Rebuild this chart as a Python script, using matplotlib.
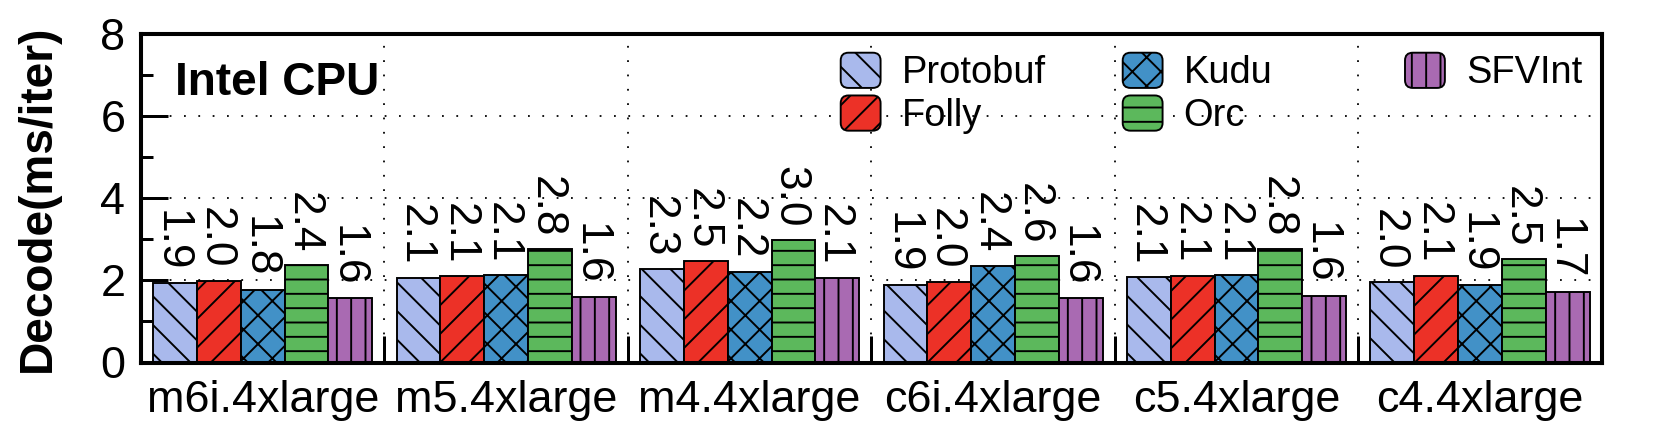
import matplotlib
matplotlib.use("Agg")
import matplotlib.pyplot as plt
from matplotlib.patches import FancyBboxPatch
from matplotlib.legend_handler import HandlerPatch
import numpy as np

instances = ["m6i.4xlarge", "m5.4xlarge", "m4.4xlarge", "c6i.4xlarge", "c5.4xlarge", "c4.4xlarge"]
protobuf = [1.93, 2.07, 2.27, 1.88, 2.08, 1.96]
folly = [1.99, 2.10, 2.46, 1.97, 2.11, 2.11]
kudu = [1.77, 2.12, 2.21, 2.36, 2.13, 1.88]
orc = [2.37, 2.76, 2.99, 2.59, 2.76, 2.52]
sfvint = [1.56, 1.60, 2.06, 1.56, 1.62, 1.72]

names = ["Protobuf", "Folly", "Kudu", "Orc", "SFVInt"]
colors = ["#a9b9ec", "#ec3127", "#4291c7", "#5cb85c", "#a96ab2"]
hatches = ["\\", "/", "x", "-", "|"]

DPI = 86
plt.rcParams["font.family"] = ["Liberation Sans", "DejaVu Sans"]
plt.rcParams["hatch.linewidth"] = 1.6
plt.rcParams["hatch.color"] = "black"


class RoundBox(HandlerPatch):
    def create_artists(self, legend, orig_handle, xdescent, ydescent,
                       width, height, fontsize, trans):
        p = FancyBboxPatch((-xdescent, -ydescent), width, height,
                           boxstyle="round,pad=0,rounding_size=%f" % (0.22 * height))
        self.update_prop(p, orig_handle, legend)
        p.set_transform(trans)
        return [p]


fig = plt.figure(figsize=(1661 / DPI, 434 / DPI), dpi=DPI)
ax = fig.add_axes([141 / 1661, 1 - 362.5 / 434, (1601.7 - 141) / 1661, (362.5 - 34) / 434])

series = [protobuf, folly, kudu, orc, sfvint]
x = np.arange(len(instances))
w = 0.18
handles = []
for j, vals in enumerate(series):
    pos = x + (j - 2) * w
    b = ax.bar(pos, vals, w, color=colors[j], edgecolor="black", linewidth=1.6,
               hatch=hatches[j], label=names[j], zorder=2)
    handles.append(b.patches[0])
    for xi, v in zip(pos, vals):
        ax.annotate("%.1f" % v, (xi, v), xytext=(-3, 10), textcoords="offset points",
                    rotation=270, ha="center", va="bottom", fontsize=37, zorder=3)

ax.set_xlim(-0.5, len(instances) - 0.5)
ax.set_ylim(0, 8)
ax.set_xticks(x)
ax.set_xticklabels(instances, fontsize=37.7)
ax.set_xticks(x[:-1] + 0.5, minor=True)
ax.tick_params(axis="x", which="major", length=0, pad=15)
ax.tick_params(axis="x", which="minor", direction="in", length=22.6, width=2.5)
ax.set_yticks([0, 2, 4, 6, 8])
ax.set_yticks([1, 3, 5, 7], minor=True)
ax.tick_params(axis="y", which="major", direction="in", length=22.6, width=2.5,
               labelsize=37.7, pad=13)
ax.tick_params(axis="y", which="minor", direction="in", length=10, width=2.5)

for s in ax.spines.values():
    s.set_linewidth(3.4)

ax.set_axisbelow(True)
ax.grid(axis="y", which="major", color="black", linestyle=(0, (1, 7)), linewidth=1.5)
ax.grid(axis="x", which="minor", color="black", linestyle=(0, (1, 7)), linewidth=1.5)

ax.set_ylabel("Decode(ms/iter)", fontsize=38.5, fontweight="bold")
ax.yaxis.set_label_coords(-0.0555, 0.5)

ax.text(0.0233, 0.814, "Intel CPU", transform=ax.transAxes, fontsize=38.5,
        fontweight="bold", ha="left", va="baseline")

columns = [[0, 1], [2, 3], [4]]
anchors = [840.7, 1122.7, 1405]
for cols, ax_px in zip(columns, anchors):
    fig.legend([handles[i] for i in cols], [names[i] for i in cols],
               loc="upper left", bbox_to_anchor=(ax_px / 1661, 1 - 52.7 / 434),
               frameon=False, fontsize=31.8, borderpad=0, borderaxespad=0,
               handlelength=1.05, handleheight=1.05, handletextpad=0.55,
               labelspacing=0.11, handler_map={handles[i]: RoundBox() for i in cols})

fig.savefig("out.png", dpi=DPI)
